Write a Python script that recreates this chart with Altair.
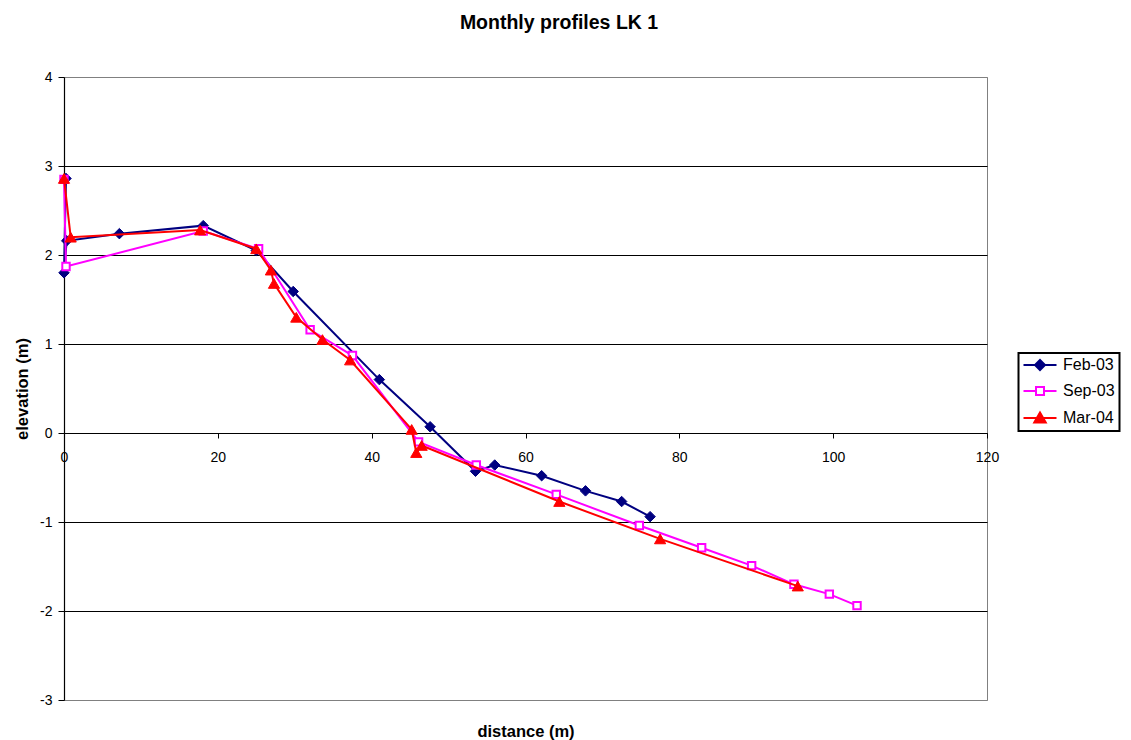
import altair as alt
import pandas as pd

# ---------------- data ----------------
series_names = ["Feb-03", "Sep-03", "Mar-04"]

feb_x = [0.26, 0.0, 0.35, 7.2, 18.1, 25.0, 29.8, 41.0, 47.6, 53.5, 56.0, 62.1, 67.8, 72.5, 76.2]
feb_y = [2.86, 1.80, 2.16, 2.24, 2.33, 2.05, 1.59, 0.60, 0.07, -0.43, -0.36, -0.48, -0.65, -0.77, -0.94]

sep_x = [0.0, 0.26, 18.1, 25.3, 32.0, 37.5, 46.1, 53.6, 64.0, 74.8, 82.9, 89.4, 94.9, 99.5, 103.1]
sep_y = [2.85, 1.87, 2.27, 2.07, 1.16, 0.87, -0.10, -0.36, -0.69, -1.04, -1.29, -1.49, -1.70, -1.81, -1.94]

mar_x = [0.0, 0.87, 17.7, 25.0, 26.9, 27.3, 30.2, 33.6, 37.2, 45.2, 45.8, 46.5, 64.4, 77.5, 95.4]
mar_y = [2.86, 2.20, 2.28, 2.07, 1.83, 1.68, 1.30, 1.05, 0.82, 0.04, -0.22, -0.14, -0.77, -1.19, -1.72]

x_ticks = [0, 20, 40, 60, 80, 100, 120]
y_ticks = [-3, -2, -1, 0, 1, 2, 3, 4]

rows = []
for name, xs, ys in zip(series_names, [feb_x, sep_x, mar_x], [feb_y, sep_y, mar_y]):
    for i, (xv, yv) in enumerate(zip(xs, ys)):
        rows.append({"series": name, "idx": i, "x": xv, "y": yv})
df = pd.DataFrame(rows)

# ---------------- styling ----------------
NAVY, MAGENTA, RED = "#000080", "#FF00FF", "#FF0000"
FONT = "Liberation Sans"
W, H = 923, 623

xscale = alt.Scale(domain=[0, 120], nice=False, zero=False)
yscale = alt.Scale(domain=[-3, 4], nice=False, zero=False)

x_axis = alt.Axis(
    values=x_ticks, grid=False, offset=-(H * 3 / 7),
    domainColor="black", domainWidth=1, tickColor="black", tickSize=5, tickWidth=1,
    labelFontSize=14, labelPadding=12, labelFlush=False, labelOverlap=False, labelColor="black",
    labelExpr="toString(datum.value)",
    title="distance (m)", titleFontSize=16.5, titleFontWeight="bold", titleColor="black",
    titleY=303, titleBaseline="alphabetic",
)
y_axis = alt.Axis(
    values=y_ticks, grid=True,
    gridColor={"condition": {"test": "datum.value === 4 || datum.value === -3", "value": "#808080"},
               "value": "#000000"},
    gridWidth=1.2,
    domainColor="black", domainWidth=1.2, tickColor="black", tickSize=6, tickWidth=1,
    labelFontSize=14, labelPadding=6, labelColor="black",
    labelExpr="toString(datum.value)",
    title="elevation (m)", titleFontSize=16.5, titleFontWeight="bold", titleColor="black",
    titleX=-37, titleY=H / 2, titleAngle=270, titleAlign="center", titleBaseline="alphabetic",
)

X = alt.X("x:Q", scale=xscale, axis=x_axis)
Y = alt.Y("y:Q", scale=yscale, axis=y_axis)

base = alt.Chart(df)

styles = {
    "Feb-03": dict(color=NAVY, fill=NAVY, shape="diamond", size=110, sw=1),
    "Sep-03": dict(color=MAGENTA, fill="white", shape="square", size=55, sw=2),
    "Mar-04": dict(color=RED, fill=RED, shape="triangle-up", size=125, sw=1),
}

layers = []
for name in series_names:
    s = styles[name]
    sub = base.transform_filter(alt.datum.series == name)
    layers.append(
        sub.mark_line(color=s["color"], strokeWidth=2).encode(x=X, y=Y, order=alt.Order("idx:Q"))
    )
    layers.append(
        sub.mark_point(shape=s["shape"], size=s["size"], filled=True, fill=s["fill"],
                       stroke=s["color"], strokeWidth=s["sw"], opacity=1).encode(x=X, y=Y)
    )

# legend: symbol = line with marker (custom paths)
legend_paths = [
    "M-3.3,0L3.3,0M0,-1L1,0L0,1L-1,0Z",
    "M-3.3,0L-0.8,0M0.8,0L3.3,0M-0.8,-0.8L0.8,-0.8L0.8,0.8L-0.8,0.8Z",
    "M-3.3,0L3.3,0M0,-1.1L1.15,0.9L-1.15,0.9Z",
]
leg = alt.Legend(
    title=None, orient="none", legendX=954.5, legendY=276,
    padding=4, symbolSize=100, symbolStrokeWidth=2, symbolOffset=9.5,
    labelOffset=15, labelFontSize=16, labelColor="black", rowPadding=9,
    strokeColor="black", symbolOpacity=1,
)
legend_layer = base.mark_point(filled=True, opacity=0).encode(
    x=X, y=Y,
    shape=alt.Shape("series:N", scale=alt.Scale(domain=series_names, range=legend_paths), legend=leg),
    fill=alt.Fill("series:N", scale=alt.Scale(domain=series_names, range=[NAVY, "white", RED]), legend=leg),
    stroke=alt.Stroke("series:N", scale=alt.Scale(domain=series_names, range=[NAVY, MAGENTA, RED]), legend=leg),
)

chart = alt.layer(*layers, legend_layer).properties(
    width=W, height=H,
    autosize=alt.AutoSizeParams(type="none"),
    padding={"left": 56, "top": 69, "right": 136, "bottom": 40},
    title=alt.TitleParams("Monthly profiles LK 1", fontSize=19.5, fontWeight="bold", font=FONT,
                          color="black", anchor="middle", frame="group", dx=33.5, offset=22,
                          baseline="alphabetic"),
).configure(
    font=FONT,
).configure_view(
    stroke="#808080", strokeWidth=1,
).configure_legend(
    strokeWidth=2,
)

chart.save("out.html", embed_options={"renderer": "svg", "actions": False})
